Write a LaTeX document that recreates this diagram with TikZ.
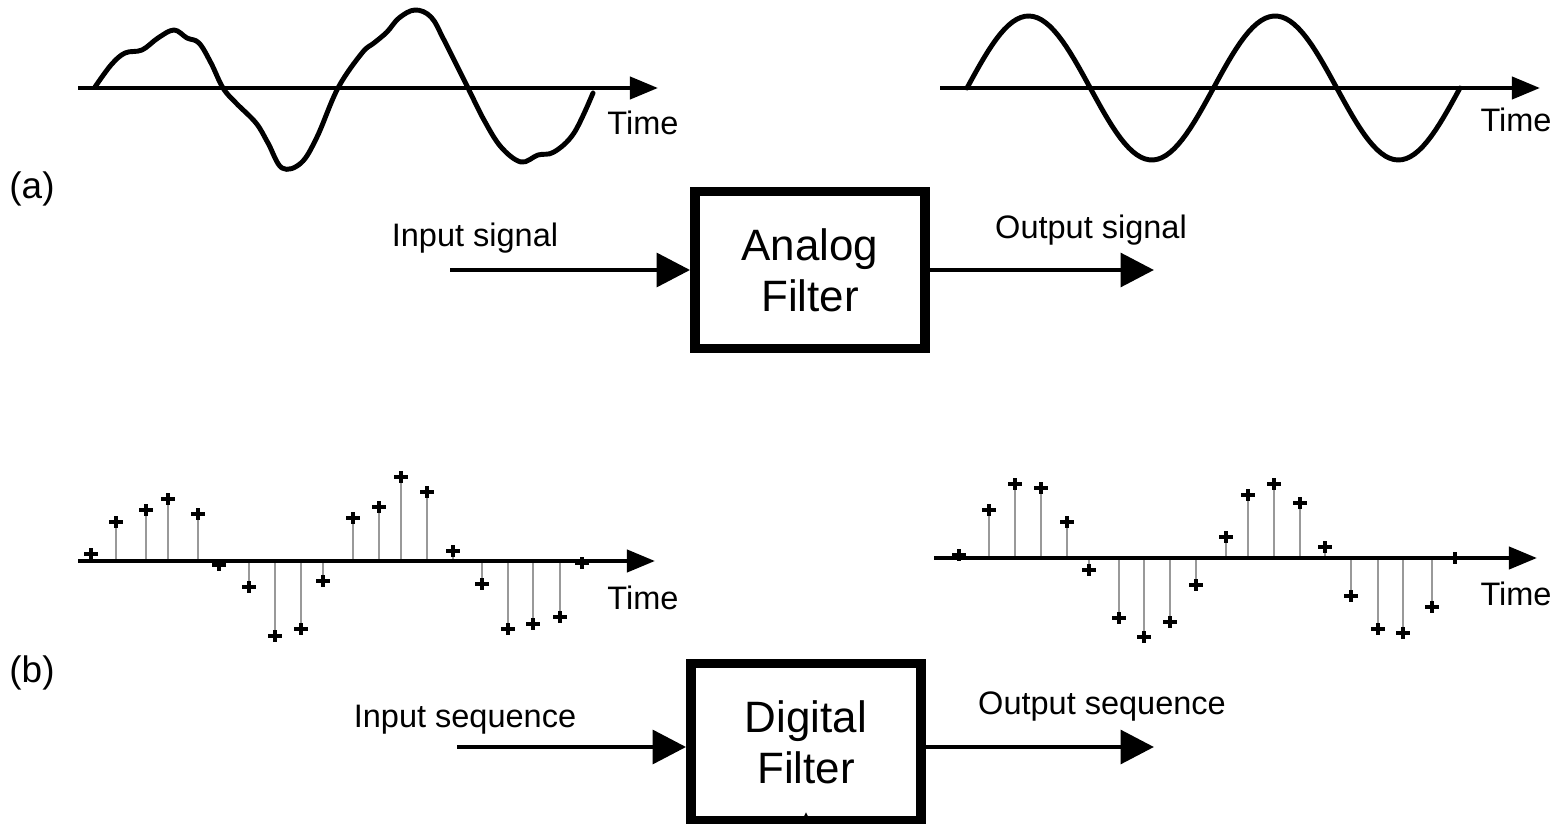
\documentclass[tikz,border=0pt]{standalone}
\usepackage{fontspec}
\setmainfont{Liberation Sans}
\usetikzlibrary{arrows.meta}

\begin{document}
\begin{tikzpicture}[x=0.02cm, y=-0.02cm,
  lbl/.style={font=\fontsize{18.5}{22}\selectfont, anchor=base, inner sep=0},
  tag/.style={font=\fontsize{21}{25}\selectfont, anchor=base, inner sep=0},
  filterbox/.style={draw, line width=5.6pt, minimum width=4.6cm, minimum height=3.14cm,
    inner sep=0, align=center, font=\fontsize{25}{29}\selectfont},
  flow/.style={line width=2.8pt, -{Triangle[length=19pt, width=19pt]}},
  axis/.style={line width=2.5pt, -{Triangle[length=16pt, width=12.5pt]}},
  wave/.style={line width=2.8pt, line join=round, line cap=round},
  stem/.style={line width=0.85pt, black!40},
  plus/.style={line width=2.2pt}]

\useasboundingbox (0,0) rectangle (1565,824);
\clip (0,0) rectangle (1565,824);

% (a) analog input and output
\draw[axis] (78,88) -- (658,88);
\draw[wave] plot[smooth, tension=0.6] coordinates {(95,87) (111,65) (125,53) (142,50)
  (158,38) (174,30) (187,38) (199,43) (211,63) (223,88) (236,103) (256,123) (268,143)
  (282,168) (301,163) (317,137) (338,88) (362,53) (374,43) (387,32) (399,18) (415,10)
  (431,17) (444,40) (468,88) (484,120) (501,147) (521,162) (538,155) (554,152)
  (574,133) (593,93)};
\node[lbl] (timea1) at (643,135) {Time};

\draw[axis] (940,88) -- (1540,88);
\draw[wave] plot[domain=967:1460, samples=120] (\x, {88-72*sin((\x-967)/246.5*360)});
\node[lbl] (timea2) at (1516,132) {Time};

\node[tag] (taga) at (32,199) {(a)};

\node[filterbox] (analog) at (810,270) {Analog\\Filter};
\coordinate (insig) at (450,270);
\coordinate (outsig) at (1154,270);
\draw[flow] (insig) -- (analog.west);
\draw[flow] (analog.east) -- (outsig);
\node[lbl] (insiglbl) at (475,247) {Input signal};
\node[lbl] (outsiglbl) at (1091,238) {Output signal};

% (b) sampled input and output
\foreach \x/\y in {91/554, 116/522, 146/510, 168/499, 198/514, 219/565, 249/587,
  275/636, 301/629, 323/581, 353/518, 379/507, 401/477, 427/492, 453/551, 482/584,
  508/629, 533/624, 560/617, 582/563}
  \draw[stem] (\x,561) -- (\x,\y);
\draw[axis] (78,561) -- (655,561);
\foreach \x/\y in {91/554, 116/522, 146/510, 168/499, 198/514, 219/565, 249/587,
  275/636, 301/629, 323/581, 353/518, 379/507, 401/477, 427/492, 453/551, 482/584,
  508/629, 533/624, 560/617, 582/563}
  \draw[plus] (\x-7,\y) -- (\x+7,\y) (\x,\y-6) -- (\x,\y+6);
\node[lbl] (timeb1) at (643,609) {Time};

\foreach \x/\y in {959/555, 989/510, 1015/484, 1041/488, 1067/522, 1089/570, 1119/618,
  1144/637, 1170/622, 1196/585, 1226/537, 1248/495, 1274/484, 1300/503, 1325/547,
  1351/596, 1378/629, 1403/633, 1432/607, 1455/558}
  \draw[stem] (\x,558) -- (\x,\y);
\draw[axis] (934,558) -- (1537,558);
\foreach \x/\y in {959/555, 989/510, 1015/484, 1041/488, 1067/522, 1089/570, 1119/618,
  1144/637, 1170/622, 1196/585, 1226/537, 1248/495, 1274/484, 1300/503, 1325/547,
  1351/596, 1378/629, 1403/633, 1432/607, 1455/558}
  \draw[plus] (\x-7,\y) -- (\x+7,\y) (\x,\y-6) -- (\x,\y+6);
\node[lbl] (timeb2) at (1516,605) {Time};

\node[tag] (tagb) at (32,682) {(b)};

\node[filterbox] (digital) at (806,742) {Digital\\Filter};
\coordinate (inseq) at (457,747);
\coordinate (outseq) at (1154,747);
\draw[flow] (inseq) -- (inseq -| digital.west);
\draw[flow] (outseq -| digital.east) -- (outseq);
\node[lbl] (inseqlbl) at (465,727) {Input sequence};
\node[lbl] (outseqlbl) at (1102,714) {Output sequence};

\coordinate (ctrl) at (806,880);
\coordinate (ctrltip) at (806,812);
\draw[line width=2pt, -{Triangle[length=9pt, width=8pt]}] (ctrl) -- (ctrltip);

\end{tikzpicture}
\end{document}
